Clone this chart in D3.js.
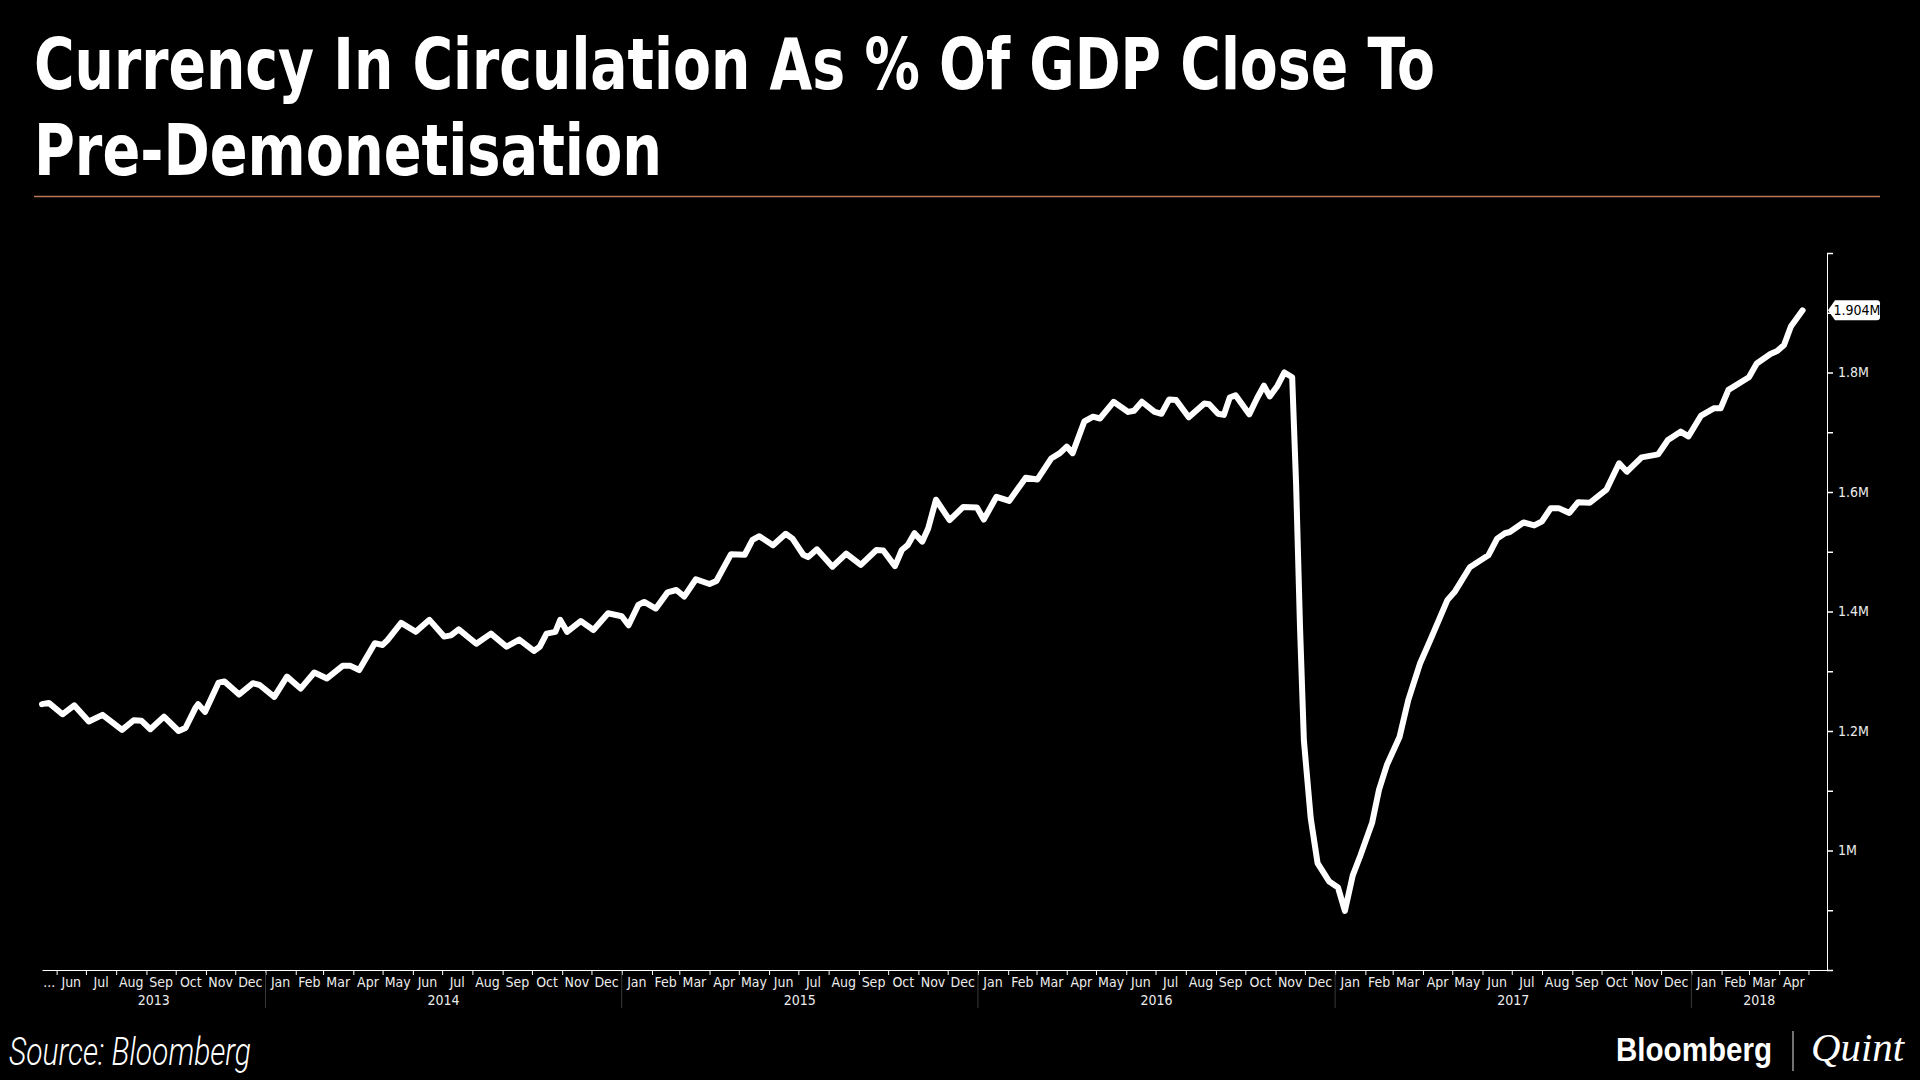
<!DOCTYPE html>
<meta charset="utf-8">
<style>
body { margin: 0; background: #000; }
svg { display: block; background: #000; }
.title { font-family: "Liberation Sans Narrow", "DejaVu Sans Condensed", Roboto, sans-serif; font-weight: bold; font-size: 72px; fill: #fff; }
.tick-label { font-family: "Liberation Sans Narrow", "DejaVu Sans Condensed", sans-serif; font-size: 14px; fill: #ececec; }
.source { font-family: Roboto, "Liberation Sans", sans-serif; font-style: italic; font-weight: 300; font-size: 38px; fill: #fff; }
</style>
<svg width="1920" height="1080"></svg>
<script src="https://d3js.org/d3.v7.min.js"></script>
<script>
// values (currency in circulation, M)
const dates = [
  "2013-05-17","2013-05-24","2013-06-07","2013-06-19","2013-07-04","2013-07-18","2013-08-07","2013-08-19",
  "2013-08-27","2013-09-05","2013-09-19","2013-10-04","2013-10-11","2013-10-21","2013-10-24","2013-10-31",
  "2013-11-14","2013-11-20","2013-12-05","2013-12-19","2013-12-26","2014-01-10","2014-01-23","2014-02-06",
  "2014-02-20","2014-03-05","2014-03-21","2014-03-29","2014-04-07","2014-04-23","2014-05-01","2014-05-06",
  "2014-05-20","2014-06-04","2014-06-18","2014-07-03","2014-07-10","2014-07-18","2014-08-05","2014-08-20",
  "2014-09-05","2014-09-18","2014-10-03","2014-10-09","2014-10-16","2014-10-25","2014-10-30","2014-11-06",
  "2014-11-20","2014-12-03","2014-12-18","2015-01-01","2015-01-08","2015-01-18","2015-01-24","2015-02-05",
  "2015-02-17","2015-02-26","2015-03-06","2015-03-18","2015-04-01","2015-04-08","2015-04-23","2015-05-07",
  "2015-05-15","2015-05-22","2015-06-05","2015-06-18","2015-06-25","2015-07-06","2015-07-11","2015-07-20",
  "2015-08-05","2015-08-19","2015-09-03","2015-09-19","2015-09-26","2015-10-08","2015-10-15","2015-10-21",
  "2015-10-28","2015-11-05","2015-11-11","2015-11-19","2015-12-03","2015-12-17","2015-12-31","2016-01-07",
  "2016-01-20","2016-02-02","2016-02-19","2016-03-02","2016-03-16","2016-03-25","2016-04-01","2016-04-07",
  "2016-04-19","2016-04-28","2016-05-05","2016-05-19","2016-06-03","2016-06-09","2016-06-17","2016-06-30",
  "2016-07-07","2016-07-15","2016-07-22","2016-08-04","2016-08-20","2016-08-25","2016-09-03","2016-09-09",
  "2016-09-15","2016-09-21","2016-10-05","2016-10-13","2016-10-20","2016-10-26","2016-11-03","2016-11-10",
  "2016-11-18","2016-11-22","2016-11-26","2016-11-30","2016-12-07","2016-12-14","2016-12-26","2017-01-04",
  "2017-01-11","2017-01-19","2017-01-27","2017-02-08","2017-02-15","2017-02-23","2017-03-08","2017-03-17",
  "2017-03-29","2017-04-09","2017-04-26","2017-05-04","2017-05-19","2017-06-07","2017-06-16","2017-06-24",
  "2017-06-29","2017-07-13","2017-07-24","2017-08-01","2017-08-10","2017-08-18","2017-08-29","2017-09-07",
  "2017-09-19","2017-10-06","2017-10-19","2017-10-27","2017-11-11","2017-11-28","2017-12-08","2017-12-21",
  "2017-12-29","2018-01-11","2018-01-24","2018-01-31","2018-02-08","2018-03-01","2018-03-09","2018-03-23",
  "2018-03-30","2018-04-06","2018-04-13","2018-04-25"
];
const values = [
  1.245,1.247,1.228,1.243,1.216,1.227,1.202,1.218,
  1.217,1.203,1.224,1.200,1.205,1.238,1.245,1.232,
  1.281,1.283,1.261,1.280,1.277,1.257,1.291,1.271,
  1.298,1.288,1.309,1.309,1.302,1.347,1.344,1.352,
  1.381,1.366,1.386,1.358,1.360,1.370,1.346,1.363,
  1.341,1.353,1.334,1.341,1.363,1.366,1.386,1.366,
  1.384,1.369,1.397,1.392,1.377,1.411,1.416,1.405,
  1.432,1.436,1.425,1.454,1.446,1.451,1.496,1.495,
  1.520,1.526,1.511,1.530,1.522,1.495,1.491,1.504,
  1.475,1.497,1.478,1.503,1.502,1.476,1.503,1.511,
  1.531,1.517,1.539,1.587,1.553,1.575,1.574,1.554,
  1.592,1.585,1.624,1.621,1.656,1.665,1.676,1.665,
  1.718,1.726,1.723,1.751,1.734,1.736,1.751,1.734,
  1.731,1.755,1.754,1.725,1.748,1.747,1.731,1.729,
  1.758,1.762,1.730,1.757,1.778,1.760,1.778,1.800,
  1.792,1.614,1.375,1.184,1.054,0.979,0.948,0.938,
  0.899,0.958,0.992,1.047,1.102,1.143,1.190,1.252,
  1.313,1.354,1.419,1.434,1.474,1.494,1.522,1.531,
  1.533,1.549,1.544,1.551,1.573,1.573,1.565,1.583,
  1.582,1.604,1.648,1.634,1.658,1.663,1.687,1.701,
  1.693,1.728,1.740,1.740,1.771,1.792,1.815,1.831,
  1.836,1.846,1.877,1.904
];
const xDomain = ["2013-05-17", "2018-05-20"];
const yDomain = [0.8, 2.0];
const yTicks = [0.8, 0.9, 1.0, 1.1, 1.2, 1.3, 1.4, 1.5, 1.6, 1.7, 1.8, 1.9, 2.0];
const yLabelled = [1.0, 1.2, 1.4, 1.6, 1.8];
const lastLabel = "1.904M";
const titleLines = ["Currency In Circulation As % Of GDP Close To", "Pre-Demonetisation"];

const svg = d3.select("svg");
const parse = d3.timeParse("%Y-%m-%d");
const data = dates.map((d, i) => ({ date: parse(d), value: values[i] }));

const x = d3.scaleTime().domain(xDomain.map(parse)).range([42, 1827]);
const y = d3.scaleLinear().domain(yDomain).range([970, 253]);

// title + rule
svg.append("g").selectAll("text")
  .data(titleLines)
  .enter().append("text")
  .attr("class", "title")
  .attr("x", 34)
  .attr("y", (d, i) => 89 + i * 86)
  .attr("textLength", (d, i) => i == 0 ? 1401 : 628)
  .attr("lengthAdjust", "spacingAndGlyphs")
  .text(d => d);

svg.append("line")
  .attr("x1", 34).attr("x2", 1880)
  .attr("y1", 196.5).attr("y2", 196.5)
  .attr("stroke", "#b97a55")
  .attr("stroke-width", 1.5);

// x axis: month ticks, labels in the middle of each month
const xAxis = svg.append("g")
  .attr("transform", "translate(0,970)")
  .call(d3.axisBottom(x).ticks(d3.timeMonth.every(1)).tickSize(5).tickSizeOuter(0).tickFormat(""));
xAxis.select(".domain").attr("stroke", "#fff");
xAxis.selectAll(".tick line").attr("stroke", "#fff");

const [x0, x1] = x.domain();
const months = d3.timeMonth.range(d3.timeMonth.floor(x0), x1);
const fmtMonth = d3.timeFormat("%b");
svg.append("g").selectAll("text")
  .data(months)
  .enter().append("text")
  .attr("class", "tick-label")
  .attr("text-anchor", "middle")
  .attr("x", d => {
    const a = d < x0 ? x0 : d;
    const b = d3.timeMonth.offset(d, 1) > x1 ? x1 : d3.timeMonth.offset(d, 1);
    return (x(a) + x(b)) / 2;
  })
  .attr("y", 987)
  .text((d, i) => i == 0 ? "..." : (d3.timeMonth.offset(d, 1) > x1 ? "" : fmtMonth(d)));

// year row
const years = d3.timeYear.range(d3.timeYear.floor(x0), x1);
svg.append("g").selectAll("line")
  .data(years.slice(1))
  .enter().append("line")
  .attr("x1", d => x(d)).attr("x2", d => x(d))
  .attr("y1", 973).attr("y2", 1008)
  .attr("stroke", "#3a3a3a");
svg.append("g").selectAll("text")
  .data(years)
  .enter().append("text")
  .attr("class", "tick-label")
  .attr("text-anchor", "middle")
  .attr("x", d => {
    const a = d < x0 ? x0 : d;
    const e = d3.timeYear.offset(d, 1);
    const b = e > x1 ? x1 : e;
    return (x(a) + x(b)) / 2;
  })
  .attr("y", 1005)
  .text(d3.timeFormat("%Y"));

// y axis on the right
const yAxis = svg.append("g")
  .attr("transform", "translate(1827,0)")
  .call(d3.axisRight(y).tickValues(yTicks).tickSize(6).tickSizeOuter(0).tickPadding(5)
    .tickFormat(d => yLabelled.some(v => Math.abs(v - d) < 1e-9) ? d3.format("~g")(d) + "M" : ""));
yAxis.select(".domain").attr("stroke", "#fff");
yAxis.selectAll(".tick line").attr("stroke", "#fff").attr("stroke-width", 1.5);
yAxis.selectAll(".tick text").attr("class", "tick-label").attr("fill", null);

// series line
const line = d3.line()
  .x(d => x(d.date))
  .y(d => y(d.value));

svg.append("path")
  .datum(data)
  .attr("fill", "none")
  .attr("stroke", "#fff")
  .attr("stroke-width", 6)
  .attr("stroke-linejoin", "round")
  .attr("stroke-linecap", "round")
  .attr("d", line);

// last value tag
const ly = y(values[values.length - 1]);
svg.append("path")
  .attr("d", `M1828,${ly} L1835,${ly - 10} H1877 Q1880,${ly - 10} 1880,${ly - 7} V${ly + 7} Q1880,${ly + 10} 1877,${ly + 10} H1835 Z`)
  .attr("fill", "#fff");
svg.append("text")
  .attr("class", "tick-label")
  .attr("x", 1857).attr("y", ly + 5)
  .attr("text-anchor", "middle")
  .style("fill", "#000")
  .text(lastLabel);

// footer
svg.append("text")
  .attr("class", "source")
  .attr("x", 9).attr("y", 1065)
  .attr("textLength", 242)
  .attr("lengthAdjust", "spacingAndGlyphs")
  .text("Source: Bloomberg");

svg.append("text")
  .attr("x", 1616).attr("y", 1061)
  .attr("font-family", "Liberation Sans, Arial, sans-serif")
  .attr("font-weight", "bold")
  .attr("font-size", 33)
  .attr("fill", "#fff")
  .attr("textLength", 156)
  .attr("lengthAdjust", "spacingAndGlyphs")
  .text("Bloomberg");

svg.append("line")
  .attr("x1", 1793).attr("x2", 1793)
  .attr("y1", 1031).attr("y2", 1071)
  .attr("stroke", "#999")
  .attr("stroke-width", 1.5);

svg.append("text")
  .attr("x", 1811).attr("y", 1061)
  .attr("font-family", "Liberation Serif, serif")
  .attr("font-style", "italic")
  .attr("font-size", 40)
  .attr("fill", "#fff")
  .attr("textLength", 93)
  .attr("lengthAdjust", "spacingAndGlyphs")
  .text("Quint");
</script>
